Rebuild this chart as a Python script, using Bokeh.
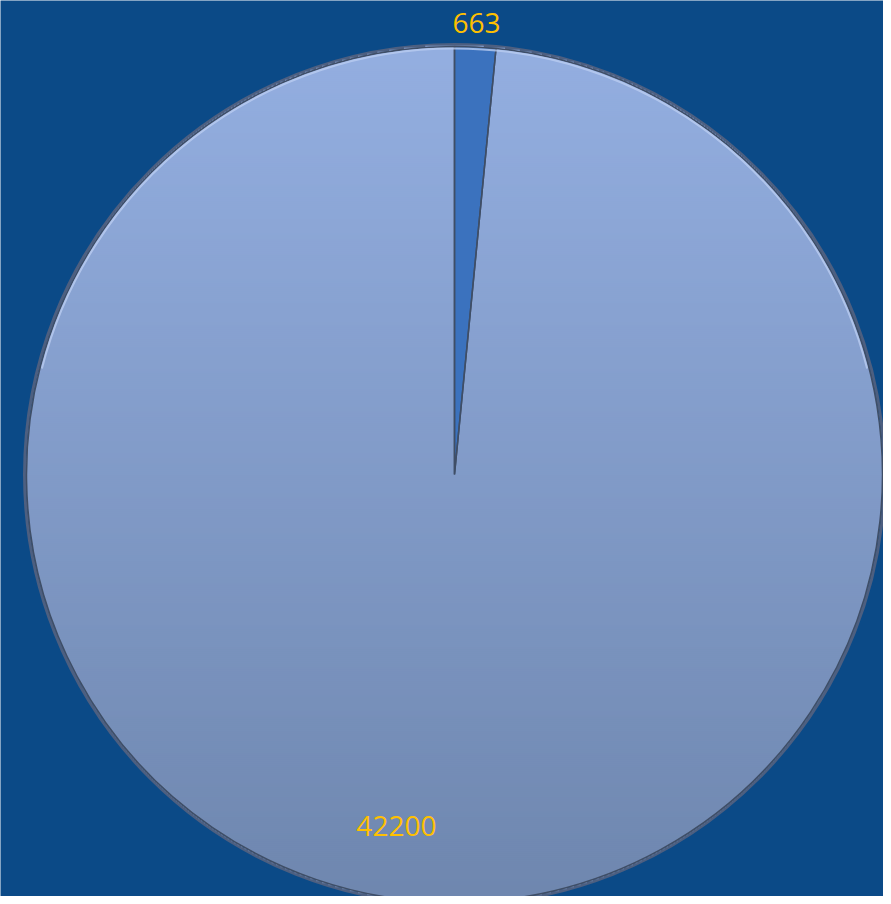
import numpy as np
from bokeh.plotting import figure
from bokeh.models import ColumnDataSource
from bokeh.core.properties import value
from bokeh.embed import file_html
from bokeh.resources import INLINE

# --- data ---
categories = ["Small", "Large"]
values = [663, 42200]
labels = ["663", "42200"]
slice_colors = ["#3b72be", "#869fcf"]

# --- geometry / style ---
W, H = 883, 896
cx, cy = 454, 422          # pie centre (screen-like data units)
R = 428
label_radius = [1.057, 0.823]
label_xoff = [0, -41]
grad_top, grad_bot = np.array([0x94, 0xaf, 0xe1]), np.array([0x6f, 0x87, 0xaf])

vals = np.array(values, dtype=float)
frac = vals / vals.sum()
ang = frac * 2 * np.pi
start = np.pi / 2 - np.concatenate([[0], np.cumsum(ang)[:-1]])
end = start - ang
mid = (start + end) / 2

src = ColumnDataSource(dict(
    cat=categories, val=values, start=start, end=end, color=slice_colors,
    alpha=[1.0, 0.0],
))

lx = cx + np.array(label_radius) * R * np.cos(mid) + np.array(label_xoff)
ly = cy + np.array(label_radius) * R * np.sin(mid)
lsrc = ColumnDataSource(dict(x=lx, y=ly, text=labels))

p = figure(width=W, height=H, x_range=(0, W), y_range=(0, H),
           output_backend="svg", toolbar_location=None, min_border=0)
p.axis.visible = False
p.grid.visible = False
p.outline_line_color = None
p.background_fill_color = "#0b4a87"
p.border_fill_color = "#0b4a87"

# shadow / bevel ring
p.circle(x=[cx], y=[cy], radius=R + 2, radius_units="screen",
         fill_color=None, line_color="#4d5f80", line_width=3)

# vertical shading of the pie face
dy = np.arange(-R + 1, R, 2.0)
half = np.sqrt(R**2 - dy**2)
t = (R - dy) / (2 * R)
cols = ["#%02x%02x%02x" % tuple((grad_top * (1 - k) + grad_bot * k).astype(int)) for k in t]
p.segment(x0=cx - half, y0=cy + dy, x1=cx + half, y1=cy + dy,
          line_color=cols, line_width=3.4)

p.wedge(x=cx, y=cy, radius=R, radius_units="screen",
        start_angle="start", end_angle="end", direction="clock",
        fill_color="color", fill_alpha="alpha", line_color="#3f4e66", line_width=1.5,
        source=src)

# light rim on top half
p.arc(x=cx, y=cy, radius=R - 2, radius_units="screen",
      start_angle=np.pi * 0.08, end_angle=np.pi * 0.92,
      line_color="#b9ccf0", line_width=2, line_alpha=0.8)

p.text(x="x", y="y", text="text", source=lsrc,
       text_align="center", text_baseline="middle",
       text_color="#ffc000", text_font=value("Open Sans"),
       text_font_size="28px")

open("out.html", "w").write(file_html(p, INLINE))
